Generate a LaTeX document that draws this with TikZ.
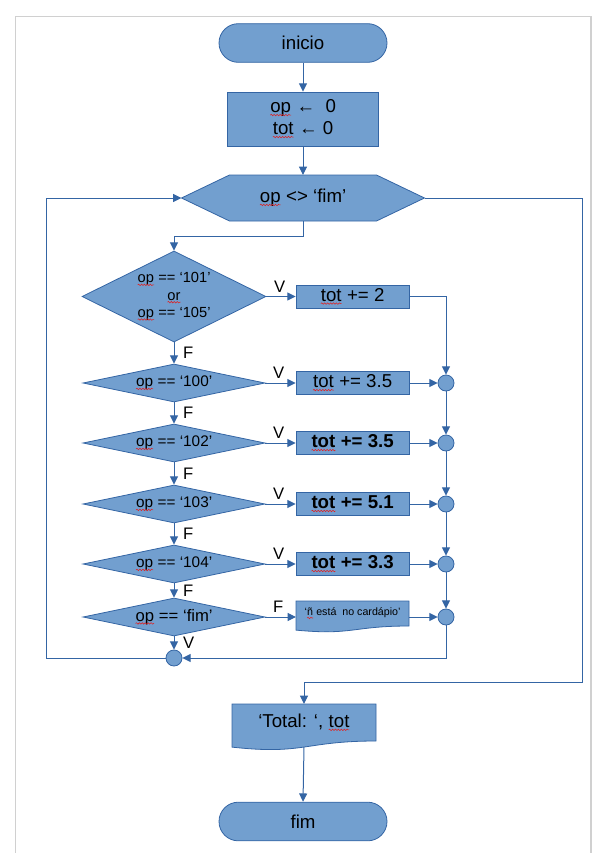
\documentclass[tikz,border=0pt]{standalone}
\usepackage{fontspec}
\setmainfont{Liberation Sans}
\usetikzlibrary{arrows.meta,shapes.geometric,backgrounds,calc,decorations.pathmorphing}

\definecolor{boxfill}{HTML}{729FCF}
\definecolor{boxline}{HTML}{3465A4}
\definecolor{pageedge}{HTML}{D0D0D0}
\definecolor{spellred}{HTML}{E02020}

\tikzset{
  shapefill/.style={fill=boxfill, draw=boxline, line width=0.6pt},
  terminal/.style={shapefill, rectangle, rounded corners=14.5pt, minimum width=126pt,
    minimum height=29pt, inner sep=0pt, font=\fontsize{14}{16}\selectfont},
  procbox/.style={shapefill, rectangle, minimum width=84.75pt, minimum height=17.25pt,
    inner sep=0pt, align=center, font=\fontsize{14}{16}\selectfont},
  decision/.style={shapefill, diamond, aspect=4.8, inner sep=0pt, minimum width=136.5pt,
    minimum height=28.5pt, align=center, font=\fontsize{11.5}{13}\selectfont},
  junction/.style={shapefill, circle, minimum size=12pt, inner sep=0pt},
  bare/.style={rectangle, draw=none, fill=none, inner sep=0pt, outer sep=0pt, align=center},
  flow/.style={draw=boxline, line width=0.75pt, -{Triangle[length=6.25pt,width=6pt]}},
  lbl/.style={inner sep=0pt, font=\fontsize{12.5}{14}\selectfont},
  vlab/.style={lbl, pos=0, anchor=south west, xshift=5.5pt, yshift=3pt},
  flab/.style={lbl, anchor=west, xshift=6.5pt},
  spell/.style={draw=spellred, line width=0.4pt, decorate,
    decoration={snake, amplitude=0.55pt, segment length=2.2pt}},
}

% word with a red wavy underline
\newcommand\spellmark[1]{\tikz[baseline=(sq.base)]{%
  \node[rectangle, draw=none, fill=none, inner sep=0pt, outer sep=0pt,
        minimum size=0pt, anchor=base] (sq) {#1};
  \draw[spell] ([yshift=-1.6pt]sq.base west) -- ([yshift=-1.6pt]sq.base east);}}

\begin{document}
\begin{tikzpicture}[x=0.75pt, y=-0.75pt]
\useasboundingbox (0,0) rectangle (608,853);

% ---- nodes ----
\node[terminal] (ini) at (303,43) {inicio};
\node[procbox, minimum width=113.25pt, minimum height=40.5pt,
      font=\fontsize{14}{16.5}\selectfont] (init) at (303,119)
  {\spellmark{op} ←\ \ 0\\\spellmark{tot} ← 0};
\node[bare, minimum width=182.25pt, minimum height=34.5pt,
      font=\fontsize{14}{16}\selectfont] (hex) at (303,198) {\spellmark{op} <> ‘fim’};

\node[decision, aspect=2.02, minimum width=138pt, minimum height=68.25pt,
      font=\fontsize{11}{13}\selectfont] (d1) at (174,296.5)
  {\spellmark{op} == ‘101’\\\spellmark{or}\\\spellmark{op} == ‘105’};
\node[procbox] (b1) at (352.5,296.5) {\spellmark{tot} += 2};

\node[decision] (d2) at (174,383) {\spellmark{op} == ‘100’};
\node[procbox] (b2) at (352.5,383) {\spellmark{tot} += 3.5};
\node[junction] (c1) at (446,383) {};

\node[decision] (d3) at (174,443) {\spellmark{op} == ‘102’};
\node[procbox, font=\fontsize{14}{16}\selectfont\bfseries] (b3) at (352.5,443) {\spellmark{tot} += 3.5};
\node[junction] (c2) at (446,443) {};

\node[decision] (d4) at (174,504) {\spellmark{op} == ‘103’};
\node[procbox, font=\fontsize{14}{16}\selectfont\bfseries] (b4) at (352.5,504) {\spellmark{tot} += 5.1};
\node[junction] (c3) at (446,504) {};

\node[decision] (d5) at (174,564) {\spellmark{op} == ‘104’};
\node[procbox, font=\fontsize{14}{16}\selectfont\bfseries] (b5) at (352.5,564) {\spellmark{tot} += 3.3};
\node[junction] (c4) at (446,564) {};

\node[decision, font=\fontsize{12.5}{14}\selectfont] (d6) at (174,617) {\spellmark{op} == ‘fim’};
\node[bare, minimum width=84.75pt, minimum height=18.75pt,
      font=\fontsize{8}{9}\selectfont] (b6) at (352.5,613.5)
  {‘\spellmark{ñ} está\ \ no cardápio’};
\node[junction] (c5) at (446,617) {};

\node[junction] (c6) at (174,658) {};

\node[bare, minimum width=108pt, minimum height=27.75pt,
      font=\fontsize{14}{16}\selectfont] (tot) at (304,722.5) {‘Total: ‘, \spellmark{tot}};
\node[terminal] (fim) at (303,821.5) {fim};

% ---- outlines drawn behind the texts ----
\begin{scope}[on background layer]
  \draw[pageedge, line width=1pt] (15.5,853) -- (15.5,16.5) -- (591,16.5) -- (591,853);
  % loop test
  \path[shapefill] (hex.west) -- ([xshift=36pt]hex.north west) -- ([xshift=-36pt]hex.north east)
    -- (hex.east) -- ([xshift=-36pt]hex.south east) -- ([xshift=36pt]hex.south west) -- cycle;
  % document outputs
  \path[shapefill] (b6.north west) -- (b6.north east) -- (b6.south east)
    .. controls (b6.south) and ($(b6.south)+(0,9.5)$) .. ($(b6.south west)+(0,4.1)$) -- cycle;
  \path[shapefill] (tot.north west) -- (tot.north east) -- (tot.south east)
    .. controls (tot.south) and ($(tot.south)+(0,14.1)$) .. ($(tot.south west)+(0,6.1)$) -- cycle;
\end{scope}

% ---- connectors ----
\draw[flow] (ini) -- (init);
\draw[flow] (init) -- (hex);
\draw[flow] (hex.south) -- ++(0,15) -| (d1.north);

\draw[flow] (d1.east) -- node[vlab]{V} (b1.west);
\draw[flow] (b1.east) -| (c1.north);
\draw[flow] (d1.south) -- node[flab]{F} (d2.north);

\draw[flow] (d2.east) -- node[vlab]{V} (b2.west);
\draw[flow] (b2) -- (c1);
\draw[flow] (d2.south) -- node[flab]{F} (d3.north);
\draw[flow] (c1) -- (c2);

\draw[flow] (d3.east) -- node[vlab]{V} (b3.west);
\draw[flow] (b3) -- (c2);
\draw[flow] (d3.south) -- node[flab]{F} (d4.north);
\draw[flow] (c2) -- (c3);

\draw[flow] (d4.east) -- node[vlab]{V} (b4.west);
\draw[flow] (b4) -- (c3);
\draw[flow] (d4.south) -- node[flab]{F} (d5.north);
\draw[flow] (c3) -- (c4);

\draw[flow] (d5.east) -- node[vlab]{V} (b5.west);
\draw[flow] (b5) -- (c4);
\draw[flow] (d5.south) -- node[flab]{F} (d6.north);
\draw[flow] (c4) -- (c5);

\draw[flow] (d6.east) -- node[vlab]{F} (d6.east -| b6.west);
\draw[flow] (c5.west -| b6.east) -- (c5.west);
\draw[flow] (d6.south) -- node[flab]{V} (c6.north);
\draw[flow] (c5.south) |- (c6.east);

\draw[flow] (c6.west) -- (46,658) |- (hex.west);
\draw[flow] (hex.east) -| (582,682) -| (tot.north);
\draw[flow] ($(tot.south)+(0,6)$) -- (fim.north);
\end{tikzpicture}
\end{document}
